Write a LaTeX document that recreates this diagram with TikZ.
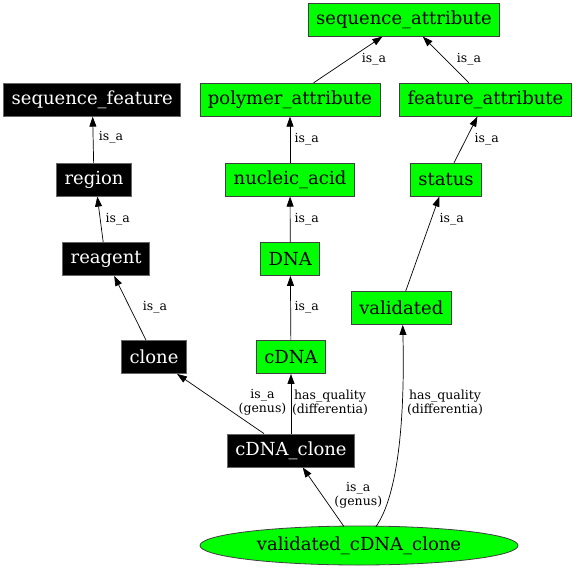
\documentclass[tikz,border=0pt]{standalone}
\usepackage{fontspec}
\setmainfont{DejaVu Serif}
\usetikzlibrary{arrows.meta,shapes.geometric}
\newcommand{\termnode}[4]{%
  \node[#4] (#1) at (#2) {#3};
}

\begin{document}
\begin{tikzpicture}[x=1pt,y=-1pt,
  term/.style={rectangle,draw,line width=0.8pt,minimum height=33pt,inner xsep=8pt,inner ysep=0pt,
    font=\fontsize{18}{21}\selectfont},
  blackterm/.style={term,fill=black,draw=gray!80!black,text=white},
  greenterm/.style={term,fill=green,draw=black!75},
  isa/.style={-{Triangle[length=10pt,width=7pt]},line width=0.7pt},
  lbl/.style={font=\fontsize{12.5}{13.7}\selectfont,align=center,inner sep=0pt}]
  \useasboundingbox (0,0) rectangle (576,568);

  \termnode{seqattr}{404,19.7}{sequence\_attribute}{greenterm}
  \termnode{seqfeat}{92.3,99.7}{sequence\_feature}{blackterm}
  \termnode{polyattr}{290,99.7}{polymer\_attribute}{greenterm}
  \termnode{featattr}{485.4,99.7}{feature\_attribute}{greenterm}
  \termnode{region}{94,179.7}{region}{blackterm}
  \termnode{nucacid}{290,179.7}{nucleic\_acid}{greenterm}
  \termnode{status}{446,179.7}{status}{greenterm}
  \termnode{reagent}{106.2,259}{reagent}{blackterm}
  \termnode{dna}{290.3,259}{DNA}{greenterm}
  \termnode{validated}{401.3,308}{validated}{greenterm}
  \termnode{clone}{154,357}{clone}{blackterm}
  \termnode{cdna}{291,357}{cDNA}{greenterm}
  \termnode{cdnaclone}{291,450.5}{cDNA\_clone}{blackterm}
  \node[ellipse,draw=black!75,fill=green,line width=0.8pt,minimum width=318pt,minimum height=39pt,
    inner sep=0pt,font=\fontsize{18}{21}\selectfont] (vcc) at (359,545.5) {validated\_cDNA\_clone};

  \draw[isa] (region) -- (seqfeat);
  \draw[isa] ([xshift=-3pt]reagent.north) -- ([xshift=3.3pt]region.south);
  \draw[isa] ([xshift=-8pt]clone.north) -- ([xshift=8pt]reagent.south);
  \draw[isa] ([xshift=-27pt]cdnaclone.north) -- ([xshift=23pt]clone.south);
  \draw[isa] (cdnaclone) -- (cdna);
  \draw[isa] (cdna) -- (dna);
  \draw[isa] (dna) -- (nucacid);
  \draw[isa] (nucacid) -- (polyattr);
  \draw[isa] ([xshift=23.6pt]polyattr.north) -- ([xshift=-21.6pt]seqattr.south);
  \draw[isa] ([xshift=-16.6pt]featattr.north) -- ([xshift=18.8pt]seqattr.south);
  \draw[isa] ([xshift=8pt]status.north) -- ([xshift=-8pt]featattr.south);
  \draw[isa] ([xshift=4.4pt]validated.north) -- ([xshift=-6.7pt]status.south);
  \draw[isa] ([xshift=-15pt,yshift=-1pt]vcc.north) -- ([xshift=11.7pt]cdnaclone.south);
  \draw[isa] ([xshift=17pt,yshift=-1pt]vcc.north) .. controls (398,495) and (405,420) .. ([xshift=1.4pt]validated.south);

  \node[lbl] (l1) at (111,137) {is\_a};
  \node[lbl] (l2) at (117.7,219) {is\_a};
  \node[lbl] (l3) at (155,307.7) {is\_a};
  \node[lbl] (l4) at (306.7,139) {is\_a};
  \node[lbl] (l5) at (306.7,219) {is\_a};
  \node[lbl] (l6) at (306.7,307.7) {is\_a};
  \node[lbl] (l7) at (374,59) {is\_a};
  \node[lbl] (l8) at (469,59) {is\_a};
  \node[lbl] (l9) at (486.7,139) {is\_a};
  \node[lbl] (l10) at (451.7,219) {is\_a};
  \node[lbl] (l11) at (262.5,402.5) {is\_a\\(genus)};
  \node[lbl] (l12) at (330,402.5) {has\_quality\\(differentia)};
  \node[lbl] (l13) at (445,402.5) {has\_quality\\(differentia)};
  \node[lbl] (l14) at (358.3,495) {is\_a\\(genus)};
\end{tikzpicture}
\end{document}
